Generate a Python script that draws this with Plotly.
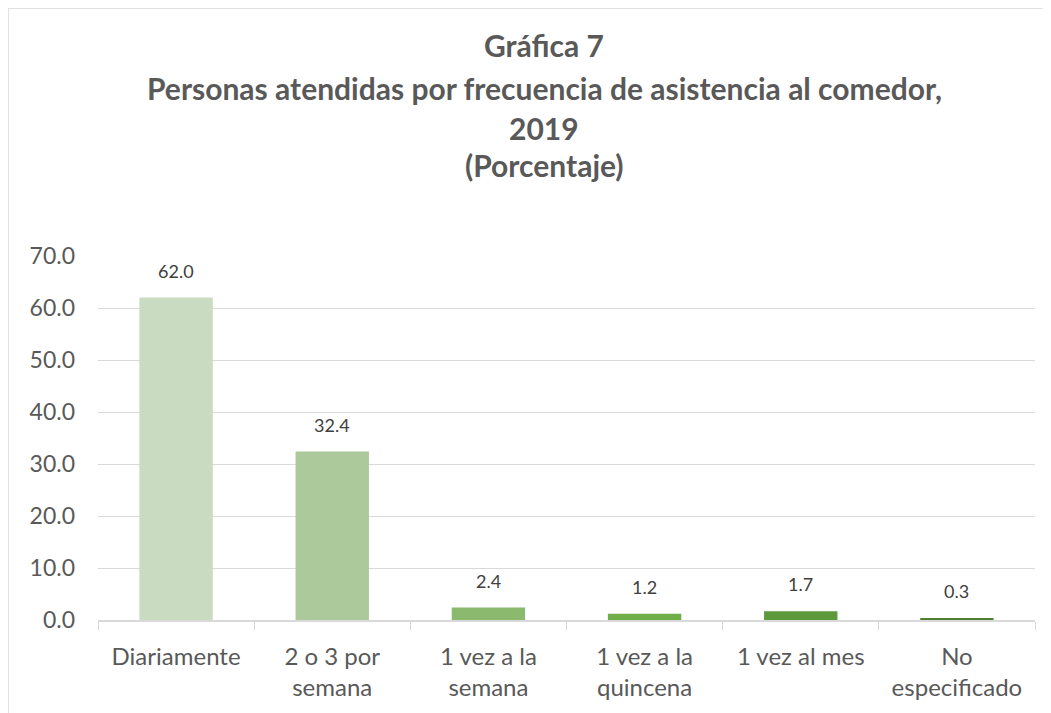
import plotly.graph_objects as go

categories = ["Diariamente", "2 o 3 por<br>semana", "1 vez a la<br>semana", "1 vez a la<br>quincena", "1 vez al mes", "No<br>especificado"]
values = [62.0, 32.4, 2.4, 1.2, 1.7, 0.3]
labels = ["62.0", "32.4", "2.4", "1.2", "1.7", "0.3"]
colors = ["#C9DCC1", "#ABC99A", "#8BBA6F", "#70AD47", "#5E9A3C", "#507F33"]
yticks = [0, 10, 20, 30, 40, 50, 60, 70]
title_lines = ["Gráfica 7", "Personas atendidas por frecuencia de asistencia al comedor,", "2019", "(Porcentaje)"]

font = "Lato"
W, H = 1051, 713
ML, MR, MT, MB = 90, 24, 248, 101

fig = go.Figure()
fig.add_trace(go.Bar(x=categories, y=values, marker=dict(color=colors, line=dict(width=0)),
                     width=0.47, hoverinfo="skip"))

for c, v, t in zip(categories, values, labels):
    fig.add_annotation(x=c, y=v, text=t, showarrow=False, yshift=27,
                       font=dict(family=font, size=18, color="#404040"))

# title lines (pixel positions converted to paper coords)
ph = H - MT - MB
pw = W - ML - MR
title_y_px = [37, 80, 120, 157]
for line, ypx in zip(title_lines, title_y_px):
    fig.add_annotation(xref="paper", yref="paper",
                       x=(536 - ML) / pw, y=(H - MB - ypx) / ph,
                       xanchor="center", yanchor="middle", showarrow=False,
                       text=f"<b>{line}</b>",
                       font=dict(family=font, size=30, color="#595959"))

fig.update_layout(
    width=W, height=H,
    margin=dict(l=ML, r=MR, t=MT, b=MB),
    paper_bgcolor="white", plot_bgcolor="white",
    showlegend=False,
    xaxis=dict(
        showline=True, linecolor="#D9D9D9", linewidth=1.5,
        ticks="outside", tickson="boundaries", ticklen=8, tickcolor="#D9D9D9",
        tickfont=dict(family=font, size=24, color="#595959"),
        ticklabelstandoff=14,
        fixedrange=True,
    ),
    yaxis=dict(
        range=[0, 70], tickvals=yticks, ticktext=[f"{v:.1f}" for v in yticks],
        showgrid=True, gridcolor="#D9D9D9", gridwidth=1.2,
        zeroline=False, showline=False,
        tickfont=dict(family=font, size=23, color="#595959"),
        ticklabelstandoff=22,
    ),
)

# chart area border (light grey), at 0,0 of the figure
fig.add_shape(type="line", xref="paper", yref="paper", x0=-ML / pw, x1=1.2, y0=(H - MB) / ph, y1=(H - MB) / ph,
              line=dict(color="#D9D9D9", width=1.5))
fig.add_shape(type="line", xref="paper", yref="paper", x0=-ML / pw, x1=-ML / pw, y0=-0.5, y1=(H - MB) / ph,
              line=dict(color="#D9D9D9", width=1.5))

fig.write_html("out.html")
